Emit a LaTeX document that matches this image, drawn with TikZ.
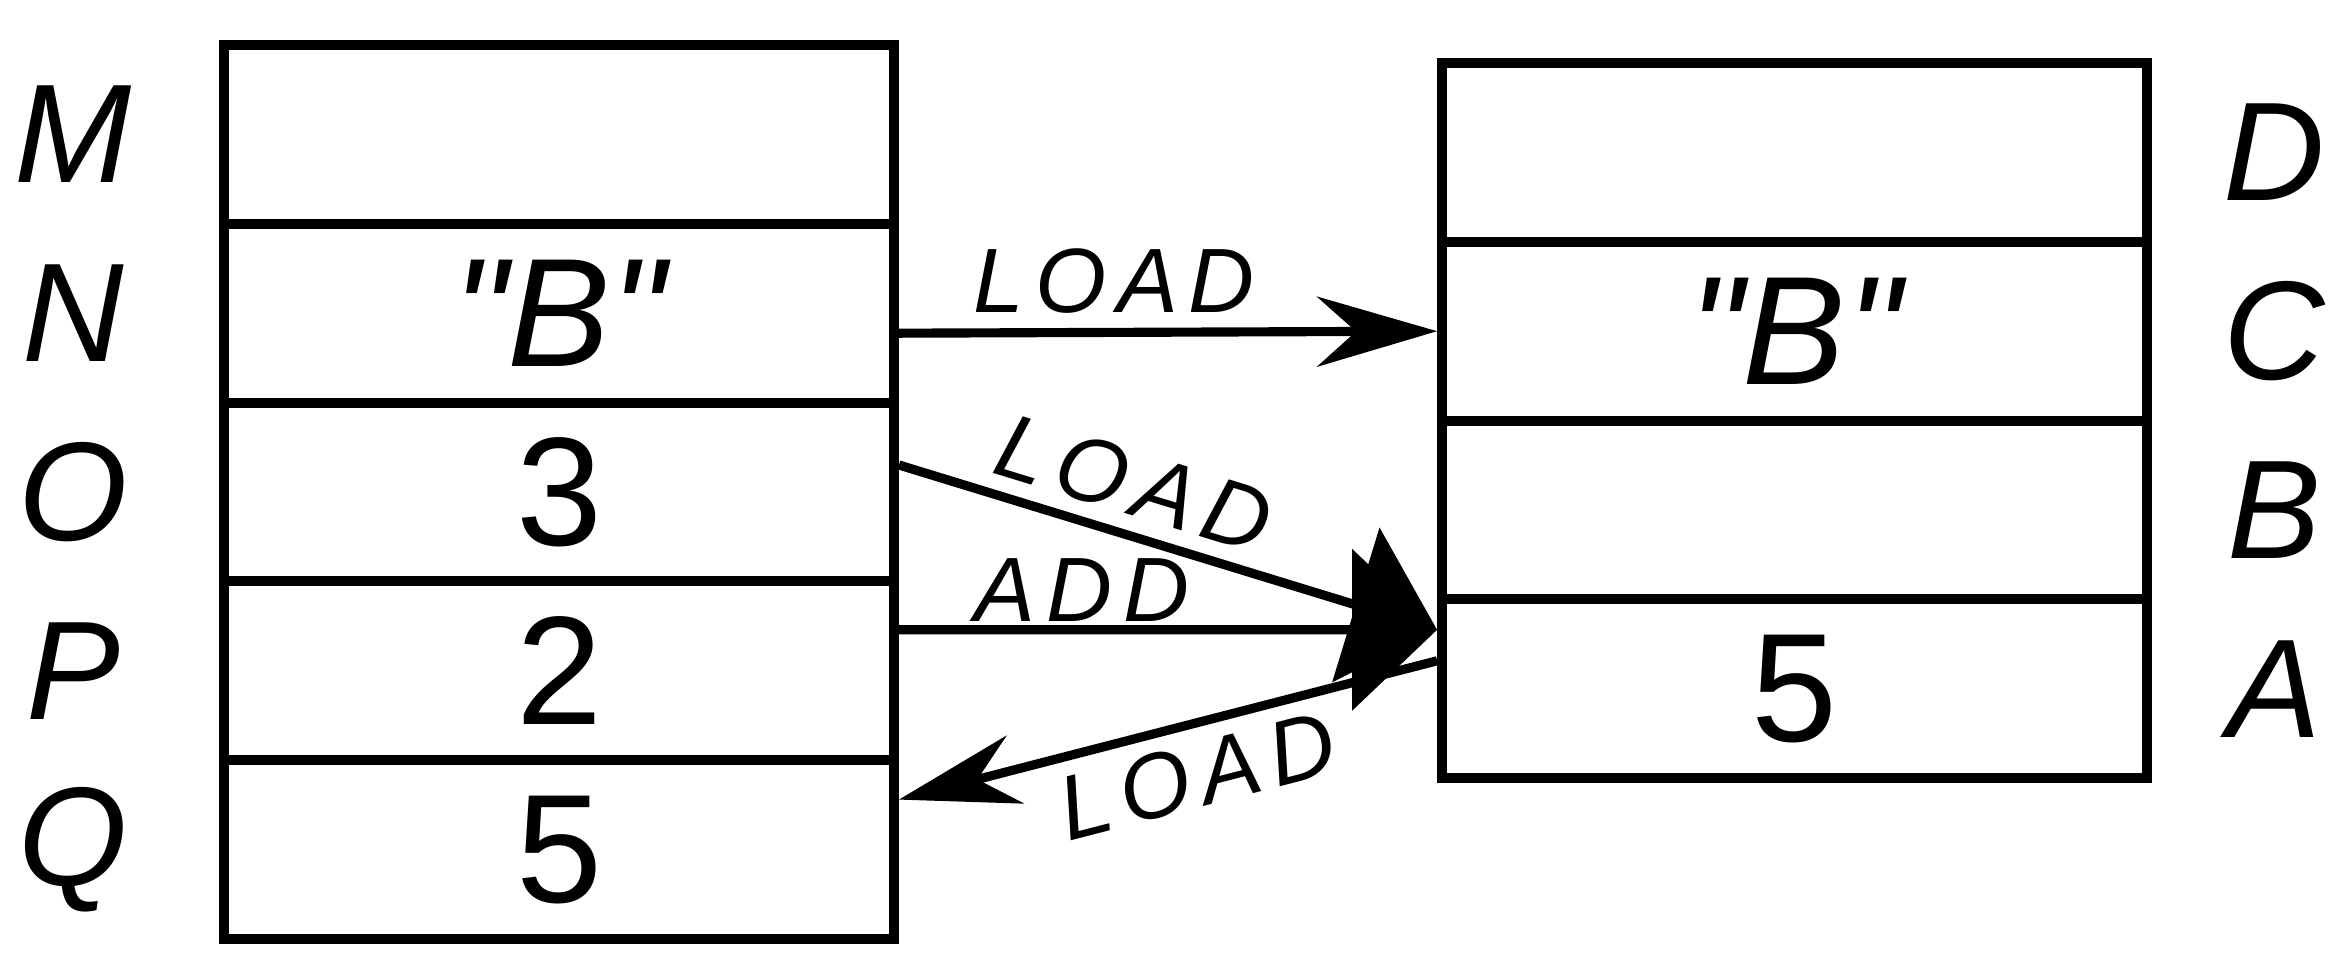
\documentclass[tikz,border=0pt]{standalone}
\usepackage{fontspec}
\setmainfont{Liberation Sans}
\usetikzlibrary{arrows.meta}

\begin{document}
\begin{tikzpicture}
        % Define styles
        \tikzset{
            cell/.style={rectangle, draw, line width=2.8pt, minimum width=6.7cm, minimum height=1.788cm, inner sep=0pt, font=\fontsize{44}{48}\selectfont},
            reg/.style={cell, minimum width=7.05cm},
            address/.style={font=\fontsize{40}{44}\selectfont\itshape},
            op/.style={font=\fontsize{26}{30}\selectfont\itshape\addfontfeature{LetterSpace=12}, inner sep=4pt},
            arrow/.style={-{Stealth[length=1.2cm,width=0.7cm]}, line width=2.6pt},
            bigarrow/.style={-{Triangle[length=0.85cm,width=1.6cm]}, line width=2.6pt}
        }
        \useasboundingbox (0,0) rectangle (23.45,9.67);

        % Memory
        \node[cell] (cell_m) at (5.59,8.326) {};
        \node[cell] (cell_n) at (5.59,6.538) {\itshape\textquotedbl B\textquotedbl};
        \node[cell] (cell_o) at (5.59,4.75) {3};
        \node[cell] (cell_p) at (5.59,2.962) {2};
        \node[cell] (cell_q) at (5.59,1.174) {5};
        \node[address] (addr_m) at (0.73,8.326) {M};
        \node[address] (addr_n) at (0.73,6.538) {N};
        \node[address] (addr_o) at (0.73,4.75) {O};
        \node[address] (addr_p) at (0.73,2.962) {P};
        \node[address] (addr_q) at (0.73,1.174) {Q};

        % Registers
        \node[reg] (reg_d) at (17.945,8.146) {};
        \node[reg] (reg_c) at (17.945,6.358) {\itshape\textquotedbl B\textquotedbl};
        \node[reg] (reg_b) at (17.945,4.57) {};
        \node[reg] (reg_a) at (17.945,2.782) {5};
        \node[address] (name_d) at (22.74,8.146) {D};
        \node[address] (name_c) at (22.74,6.358) {C};
        \node[address] (name_b) at (22.74,4.57) {B};
        \node[address] (name_a) at (22.74,2.782) {A};

        % Arrows
        \draw[arrow] ([yshift=-0.2cm]cell_n.east) -- (reg_c.west) node[op, pos=0.4, above] {LOAD};
        \draw[bigarrow] ([yshift=0.27cm]cell_o.east) -- ([yshift=0.59cm]reg_a.west) node[op, pos=0.41, sloped, above] {LOAD};
        \draw[bigarrow] ([yshift=0.41cm]cell_p.east) -- ([yshift=0.59cm]reg_a.west) node[op, pos=0.34, above, yshift=-3pt] {ADD};
        \draw[arrow, {Stealth[length=1.2cm,width=0.7cm]}-] ([yshift=0.5cm]cell_q.east) -- ([yshift=0.28cm]reg_a.west) node[op, pos=0.53, sloped, below] {LOAD};
    \end{tikzpicture}
\end{document}
